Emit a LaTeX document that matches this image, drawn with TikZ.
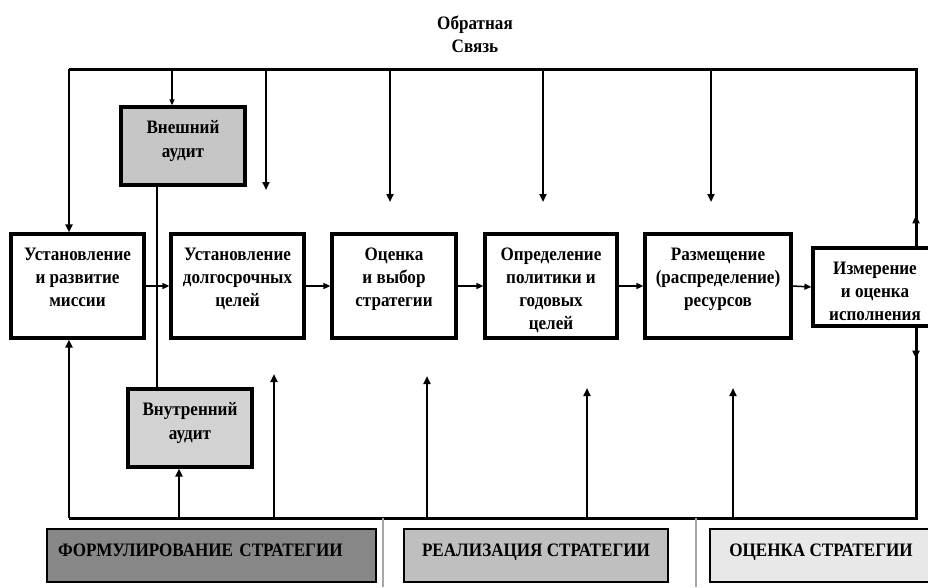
\documentclass[tikz,border=0pt]{standalone}
\usepackage{fontspec}
\setmainfont{Liberation Serif}[FakeStretch=0.9]
\usetikzlibrary{arrows.meta}
\definecolor{auditout}{HTML}{C6C6C6}
\definecolor{auditin}{HTML}{D2D2D2}
\definecolor{phaseform}{HTML}{878787}
\definecolor{phaseimpl}{HTML}{BFBFBF}
\definecolor{phaseeval}{HTML}{E8E8E8}
\newcommand{\stagetext}[3][110pt]{\parbox[c][#2][t]{#1}{\centering #3}}
\tikzset{
    stage/.style = {draw, line width=3.2pt, fill=white, inner sep=0pt, minimum height=104pt,
        font=\fontsize{19}{23}\selectfont\bfseries},
    audit/.style = {draw, line width=3.2pt, inner sep=0pt, minimum width=124pt, minimum height=78pt,
        font=\fontsize{19}{24}\selectfont\bfseries},
    phase/.style = {draw, line width=2.8pt, inner sep=0pt, minimum height=53pt, text depth=10pt,
        font=\fontsize{19}{20}\selectfont\bfseries},
    bus/.style = {line width=3pt},
    feed/.style = {line width=2.6pt, -{Triangle[length=8pt,width=7pt]}},
    flow/.style = {line width=1.5pt, -{Triangle[length=7pt,width=6pt]}},
    sepline/.style = {line width=1.2pt, gray!70}
}
\begin{document}
\begin{tikzpicture}[x=1pt,y=-1pt]
    \useasboundingbox (0,0) rectangle (928,587);
    \clip (0,0) rectangle (928,587);
    \fill[white] (0,0) rectangle (928,587);
    \node[align=center, font=\fontsize{19}{23}\selectfont\bfseries] (fbtitle) at (475,34) {Обратная\\ Связь};

    \node[stage, minimum width=133pt] (mission) at (77.5,286) {\stagetext{76pt}{Установление\\ и развитие\\ миссии}};
    \node[stage, minimum width=133pt] (goals) at (237.5,286) {\stagetext{76pt}{Установление\\ долгосрочных\\ целей}};
    \node[stage, minimum width=124pt] (choice) at (394,286) {\stagetext{76pt}{Оценка\\ и выбор\\ стратегии}};
    \node[stage, minimum width=132pt] (policy) at (551,286) {\stagetext{76pt}{Определение\\ политики и\\ годовых\\ целей}};
    \node[stage, minimum width=146pt] (alloc) at (718,286) {\stagetext[136pt]{76pt}{Размещение\\ (распределение)\\ ресурсов}};
    \node[stage, minimum width=124pt, minimum height=78pt] (measure) at (875,287) {\stagetext{50pt}{Измерение\\ и оценка\\ исполнения}};

    \node[audit, fill=auditout] (extaudit) at (183,146) {\stagetext{52pt}{Внешний\\ аудит}};
    \node[audit, fill=auditin] (intaudit) at (190,428) {\stagetext{52pt}{Внутренний\\ аудит}};

    \node[phase, fill=phaseform, minimum width=329pt, text width=307pt, align=left] (formul) at (211.5,555.5) {ФОРМУЛИРОВАНИЕ СТРАТЕГИИ};
    \node[phase, fill=phaseimpl, minimum width=264pt] (realiz) at (536,555.5) {РЕАЛИЗАЦИЯ СТРАТЕГИИ};
    \node[phase, fill=phaseeval, minimum width=222pt] (evalst) at (821,555.5) {ОЦЕНКА СТРАТЕГИИ};

    \coordinate (tl) at (69,69);
    \coordinate (tr) at (916,69);
    \coordinate (bl) at (69,518);
    \coordinate (br) at (916,518);

    \draw[bus] (tl) -- (tr) -- (tr |- measure.north);
    \draw[bus] (bl) -- (br) -- (br |- measure.south);
    \draw[feed] (tl) -- (tl |- mission.north);
    \draw[feed] (bl) -- (bl |- mission.south);
    \draw[feed] (tr |- measure.north) -- ++(0,-31);
    \draw[feed] (br |- measure.south) -- ++(0,31);

    \coordinate (extin) at ([xshift=-11pt]extaudit.north);
    \coordinate (intin) at ([xshift=-11pt]intaudit.south);
    \coordinate (auditlink) at ([xshift=-26pt]extaudit.south);
    \draw[line width=1.2pt, -{Triangle[length=6pt,width=5pt]}] (extin |- tl) -- (extin);
    \draw[feed] (intin |- bl) -- (intin);
    \draw[line width=2.4pt] (auditlink) -- (auditlink |- intaudit.north);

    \foreach \x/\y [count=\i] in {266/190, 390/202, 543/202, 711/202} {
        \coordinate (down\i) at (\x,\y);
        \draw[feed] (tl -| down\i) -- (down\i);
    }
    \foreach \x/\y [count=\i] in {274/374, 427/376, 587/388, 733/388} {
        \coordinate (up\i) at (\x,\y);
        \draw[feed] (bl -| up\i) -- (up\i);
    }
    \foreach \a/\b in {mission/goals, goals/choice, choice/policy, policy/alloc, alloc/measure} {
        \draw[flow] (\a.east) -- (\b.west);
    }

    \draw[sepline] (bl -| 383,0) -- (383,587);
    \draw[sepline] (bl -| 696,0) -- (696,587);
\end{tikzpicture}
\end{document}
